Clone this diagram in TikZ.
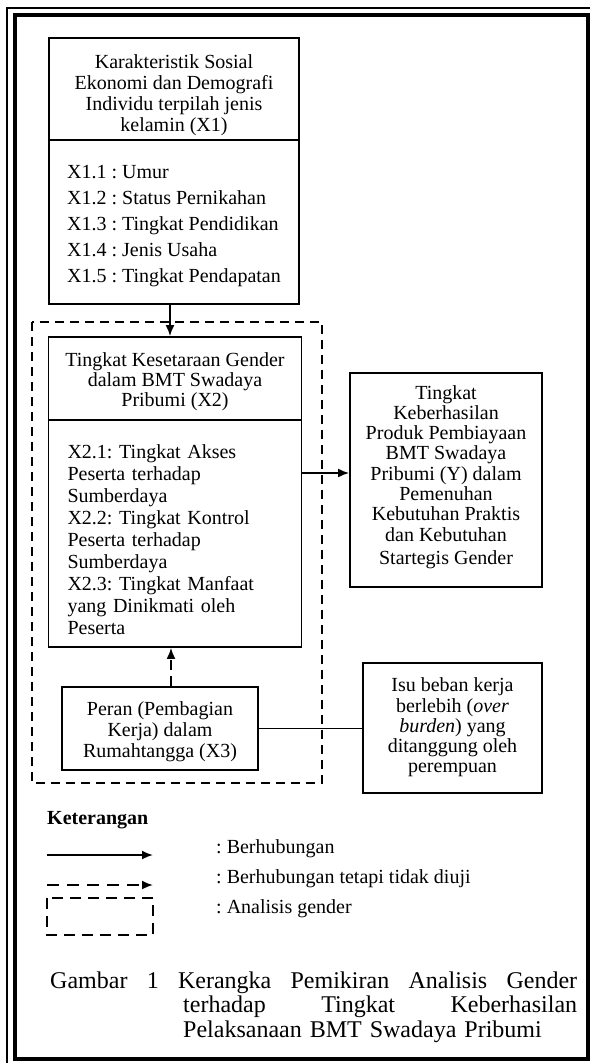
\documentclass[tikz,border=0pt]{standalone}
\usepackage{fontspec}
\setmainfont{Liberation Serif}
\usepackage{tikz}
\usetikzlibrary{positioning,arrows.meta}
\frenchspacing

\begin{document}
\begin{tikzpicture}[x=1pt,y=-1pt,
  box/.style={draw,line width=1.8pt,inner sep=0pt},
  txt/.style={inner sep=0pt,align=center,font=\fontsize{20}{21}\selectfont},
  arr/.style={line width=1.8pt,-{Latex[length=11pt,width=9pt]}},
  darr/.style={arr,dash pattern=on 10pt off 6pt},
  gbox/.style={line width=1.9pt,dash pattern=on 9pt off 6pt}]
  \useasboundingbox (0,0) rectangle (590,1063);

  % Rahmen
  \draw[line width=4pt] (15,15) rectangle (588,1059);
  \draw[line width=1.4pt] (7,1063) -- (7,8) -- (590,8);

  % Kasten X1
  \node[box,minimum width=250,minimum height=102] (x1head) at (174,89) {};
  \node[box,minimum width=250,minimum height=164] (x1list) at (174,222) {};
  \node[txt] (x1headtxt) at (174,95)
    {Karakteristik Sosial\\Ekonomi dan Demografi\\Individu terpilah jenis\\kelamin (X1)};
  \node[txt,align=left,font=\fontsize{20}{26}\selectfont] (x1listtxt) at (174,226)
    {X1.1 : Umur\\X1.2 : Status Pernikahan\\X1.3 : Tingkat Pendidikan\\X1.4 : Jenis Usaha\\X1.5 : Tingkat Pendapatan};

  % Analisis gender (gestrichelt)
  \draw[gbox] (32,322) rectangle (322,783);

  % Kasten X2
  \node[box,minimum width=253,minimum height=83] (x2head) at (175,378.5) {};
  \node[box,minimum width=253,minimum height=227] (x2list) at (175,533.5) {};
  \node[txt,font=\fontsize{20}{20}\selectfont] (x2headtxt) at (175,382)
    {Tingkat Kesetaraan Gender\\dalam BMT Swadaya\\Pribumi (X2)};
  \node[txt,align=left,text width=215,font=\fontsize{20}{22}\selectfont] (x2listtxt) at (175,540)
    {X2.1: Tingkat Akses\\Peserta terhadap\\Sumberdaya\\X2.2: Tingkat Kontrol\\Peserta terhadap\\Sumberdaya\\X2.3: Tingkat Manfaat\\yang Dinikmati oleh\\Peserta};

  % Kasten Y
  \node[box,minimum width=192,minimum height=214] (ybox) at (446,480) {};
  \node[txt,font=\fontsize{20}{20.3}\selectfont] (ytxt) at (446,477)
    {Tingkat\\Keberhasilan\\Produk Pembiayaan\\BMT Swadaya\\Pribumi (Y) dalam\\Pemenuhan\\Kebutuhan Praktis\\dan Kebutuhan\\[3pt]Startegis Gender};

  % Kasten X3 und Isu
  \node[box,minimum width=196,minimum height=83] (x3) at (160,728.5) {};
  \node[txt] (x3txt) at (160,732)
    {Peran (Pembagian\\Kerja) dalam\\Rumahtangga (X3)};
  \node[box,minimum width=179,minimum height=130] (isu) at (452.5,728) {};
  \node[txt,font=\fontsize{20}{20.3}\selectfont] (isutxt) at (452.5,727.5)
    {Isu beban kerja\\berlebih (\textit{over}\\\textit{burden}) yang\\ditanggung oleh\\perempuan};

  % Verbindungen
  \draw[arr] ([xshift=-4pt]x1list.south) -- ([xshift=-4pt]x1list.south |- x2head.north);
  \draw[arr] ([yshift=60.5pt]x2list.east) -- ([yshift=60.5pt]x2list.east -| ybox.west);
  \draw[darr] ([xshift=-4pt]x2list.south |- x3.north) -- ([xshift=-4pt]x2list.south);
  \draw[line width=1.8pt] (x3.east) -- (x3.east -| isu.west);

  % Keterangan
  \node[txt,anchor=base west,font=\fontsize{20}{21}\bfseries] (ket) at (47,824) {Keterangan};
  \coordinate (l1a) at (47,855); \coordinate (l1b) at (153,855);
  \coordinate (l2a) at (47,885); \coordinate (l2b) at (153,885);
  \draw[arr] (l1a) -- (l1b);
  \draw[darr,dash pattern=on 12pt off 8pt] (l2a) -- (l2b);
  \draw[gbox,dash pattern=on 11pt off 7pt] (47,898) rectangle (153,935);
  \node[txt,anchor=base west] (leg1) at (216,853) {: Berhubungan};
  \node[txt,anchor=base west] (leg2) at (216,883) {: Berhubungan tetapi tidak diuji};
  \node[txt,anchor=base west] (leg3) at (216,913) {: Analisis gender};

  % Keterangan gambar
  \node[txt,anchor=base west,align=left,text width=527,font=\fontsize{24}{24.5}\selectfont] (caption) at (50,988)
    {Gambar\hfill 1\hfill Kerangka\hfill Pemikiran\hfill Analisis\hfill Gender\\
     \hspace*{133pt}terhadap\hfill Tingkat\hfill Keberhasilan\\
     \hspace*{133pt}Pelaksanaan BMT Swadaya Pribumi};

\end{tikzpicture}
\end{document}
